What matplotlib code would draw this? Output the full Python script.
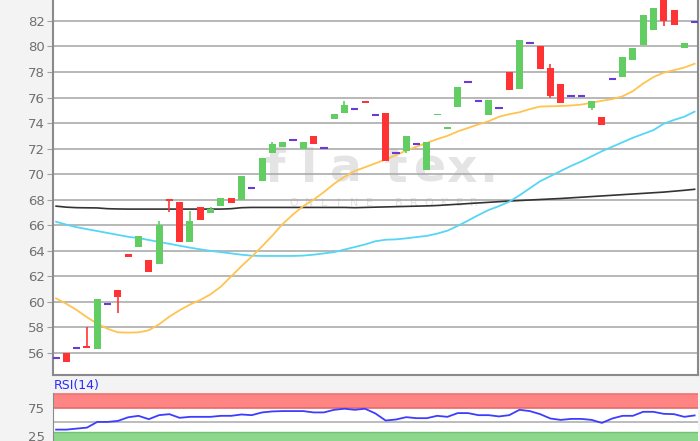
import numpy as np
import matplotlib.pyplot as plt

# candle data (63 sessions)
opens = [55.6, 56.0, 56.4, 56.55, 56.3, 59.85, 60.9, 63.75, 64.3, 63.3,
         62.95, 68.05, 67.8, 64.7, 67.4, 66.95, 67.5, 68.1, 68.0, 68.9,
         69.5, 71.7, 72.1, 72.65, 71.95, 73.0, 72.08, 74.3, 74.8, 75.1,
         75.75, 74.6, 74.8, 71.65, 71.8, 72.37, 70.35, 74.6, 73.57, 75.3,
         77.25, 75.73, 74.6, 75.2, 78.0, 76.7, 80.3, 80.05, 78.3, 77.05,
         76.13, 76.13, 75.15, 74.45, 77.46, 77.65, 78.95, 80.1, 81.3, 84.0,
         82.85, 79.85, 81.9]
closes = [55.6, 55.3, 56.4, 56.4, 60.2, 59.85, 60.4, 63.5, 65.15, 62.35,
          66.0, 67.9, 64.7, 66.3, 66.4, 67.25, 68.1, 67.75, 69.85, 68.9,
          71.3, 72.35, 72.55, 72.65, 72.5, 72.35, 72.08, 74.7, 75.4, 75.1,
          75.6, 74.6, 71.05, 71.65, 73.0, 72.37, 72.55, 74.7, 73.7, 76.85,
          77.25, 75.73, 75.8, 75.2, 76.6, 80.5, 80.3, 78.2, 76.1, 75.6,
          76.13, 76.13, 75.7, 73.85, 77.46, 79.2, 79.9, 82.45, 83.05, 82.0,
          81.7, 80.3, 81.9]
# visible wick extremes (index: value)
highs = {3: 58.0, 10: 66.3, 13: 67.15, 15: 67.4, 21: 72.5, 28: 75.7, 48: 78.6}
lows = {6: 59.1, 11: 67.05, 34: 71.7, 48: 75.95, 52: 75.0, 59: 81.6}

ma_orange = [60.28, 59.85, 59.37, 58.8, 58.3, 57.9, 57.62, 57.6, 57.62, 57.78,
             58.25, 58.85, 59.35, 59.8, 60.15, 60.6, 61.2, 62.0, 62.8, 63.55,
             64.35, 65.2, 66.1, 66.85, 67.5, 68.0, 68.6, 69.25, 69.8, 70.25,
             70.55, 70.85, 71.15, 71.5, 71.85, 72.16, 72.45, 72.75, 73.0, 73.35,
             73.62, 73.9, 74.15, 74.5, 74.7, 74.85, 75.1, 75.3, 75.32, 75.34,
             75.38, 75.45, 75.6, 75.75, 75.88, 76.1, 76.5, 77.1, 77.6, 77.95,
             78.15, 78.35, 78.65]
ma_cyan = [66.28, 66.05, 65.85, 65.7, 65.55, 65.4, 65.25, 65.1, 65.0, 64.85,
           64.7, 64.55, 64.4, 64.25, 64.12, 64.0, 63.9, 63.8, 63.7, 63.62,
           63.6, 63.6, 63.6, 63.6, 63.63, 63.7, 63.8, 63.9, 64.1, 64.3,
           64.5, 64.75, 64.87, 64.9, 64.98, 65.08, 65.17, 65.35, 65.58, 65.95,
           66.37, 66.8, 67.2, 67.5, 67.85, 68.35, 68.9, 69.45, 69.85, 70.25,
           70.65, 71.0, 71.4, 71.8, 72.15, 72.5, 72.85, 73.15, 73.45, 73.95,
           74.25, 74.5, 74.9]
ma_black = [67.5, 67.42, 67.38, 67.37, 67.36, 67.3, 67.28, 67.27, 67.27, 67.27,
            67.27, 67.27, 67.27, 67.27, 67.27, 67.27, 67.27, 67.3, 67.38, 67.4,
            67.4, 67.4, 67.4, 67.4, 67.4, 67.4, 67.4, 67.4, 67.4, 67.38,
            67.4, 67.42, 67.44, 67.46, 67.48, 67.5, 67.52, 67.55, 67.6, 67.65,
            67.7, 67.75, 67.8, 67.85, 67.9, 67.94, 67.98, 68.02, 68.06, 68.1,
            68.15, 68.2, 68.25, 68.3, 68.35, 68.4, 68.45, 68.5, 68.55, 68.6,
            68.67, 68.74, 68.82]
rsi_vals = [36.4, 36.4, 38.2, 40.0, 50.2, 50.2, 52.0, 58.5, 61.1, 55.1,
            62.3, 64.1, 57.5, 59.3, 59.3, 59.3, 61.1, 61.1, 63.5, 62.3,
            67.2, 69.0, 69.6, 69.6, 69.6, 67.2, 67.2, 71.9, 73.8, 71.9,
            73.8, 65.4, 52.7, 54.5, 58.7, 56.9, 56.9, 61.1, 59.3, 66.0,
            66.0, 62.3, 62.3, 60.0, 62.3, 71.9, 69.6, 64.1, 56.3, 53.8,
            55.6, 55.6, 53.8, 48.4, 56.3, 61.1, 61.1, 68.3, 68.3, 64.7,
            64.1, 59.3, 61.8]

GREEN = '#62cd62'
RED = '#ff3333'
DOJI = '#6a3bd6'
GRID = '#ababab'
LABEL = '#707070'

fig = plt.figure(figsize=(7, 4.41), dpi=100, facecolor='#f3f3f3')
ax = fig.add_axes([53/700, 66/441, 645/700, 375/441])
ax.set_facecolor('white')

x = np.arange(len(opens))
o = np.array(opens)
c = np.array(closes)

ax.set_xlim(-0.3, 62.33)
ax.set_ylim(54.28, 83.64)
ax.set_yticks(np.arange(56, 84, 2))
ax.set_xticks([])
ax.tick_params(axis='y', length=4, color='#a0a0a0', labelcolor=LABEL, labelsize=9.5, pad=2)
ax.grid(axis='y', color=GRID, lw=1.2)
ax.set_axisbelow(True)
for s in ['left', 'bottom', 'right']:
    ax.spines[s].set_color('#8a8a8a')
    ax.spines[s].set_linewidth(1.5)
ax.spines['top'].set_visible(False)
# cut-off 84 label at the very top
ax.text(-0.017, 84, '84', transform=ax.get_yaxis_transform(), ha='right', va='center',
        color=LABEL, fontsize=9.5, clip_on=False)

# watermark
for ch, px in zip('flatex.', [274, 309, 346, 396, 430, 462, 488]):
    ax.text((px - 53) / 645, (375 - 182) / 375, ch, transform=ax.transAxes, ha='center',
            va='baseline', fontsize=34, fontweight='bold', color='#e4e4e4', zorder=0.5)
for k, ch in enumerate('ONLINE BROKER'):
    ax.text((294 + 15 * k - 53) / 645, (375 - 206) / 375, ch, transform=ax.transAxes,
            ha='center', va='baseline', fontsize=8, color='#e2e2e2', zorder=0.5)

# moving averages
ax.plot(x, ma_black, color='#333333', lw=1.2, zorder=2)
ax.plot(x, ma_cyan, color='#55d6f5', lw=1.3, zorder=2)
ax.plot(x, ma_orange, color='#ffc44f', lw=1.3, zorder=2)

# candles
doji = o == c
up = c > o
cols = np.where(up, GREEN, RED)
hi = np.maximum(o, c)
lo = np.minimum(o, c)
for i, v in highs.items():
    ax.vlines(i, hi[i], v, color=cols[i], lw=1.2, zorder=3)
for i, v in lows.items():
    ax.vlines(i, v, lo[i], color=cols[i], lw=1.2, zorder=3)
body = np.maximum(hi - lo, 0.12)
nd = ~doji
ax.bar(x[nd], body[nd], bottom=lo[nd], width=0.68, color=cols[nd], zorder=3)
ax.hlines(o[doji], x[doji] - 0.36, x[doji] + 0.36, color=DOJI, lw=1.5, zorder=3)

# RSI panel
fig.text(54/700, 1 - 385/441, 'RSI(14)', color='#2a2aff', fontsize=9, va='center')
rx = fig.add_axes([53/700, 0, 645/700, 48/441])
rx.set_facecolor('white')
rx.set_xlim(-0.3, 62.33)
rx.set_ylim(16, 102)
rx.axhspan(75, 102, color='#ff8585', lw=0)
rx.axhline(75, color='#e56b6b', lw=1.2)
rx.axhline(100, color='#e97a7a', lw=1.0)
rx.axhspan(0, 31.5, color='#8ed68e', lw=0)
rx.axhline(31.5, color='#70c470', lw=1.0)
rx.axhline(50, color='#b0b0b0', lw=1.2)
rx.plot(x, rsi_vals, color='#3d3dff', lw=1.3)
rx.set_xticks([])
rx.set_yticks([25, 75])
rx.tick_params(axis='y', length=0, labelcolor=LABEL, labelsize=9.5, pad=6)
for s in ['top', 'bottom', 'right']:
    rx.spines[s].set_visible(False)
rx.spines['left'].set_color('#8a8a8a')

fig.savefig('out.png', dpi=100, facecolor=fig.get_facecolor())
